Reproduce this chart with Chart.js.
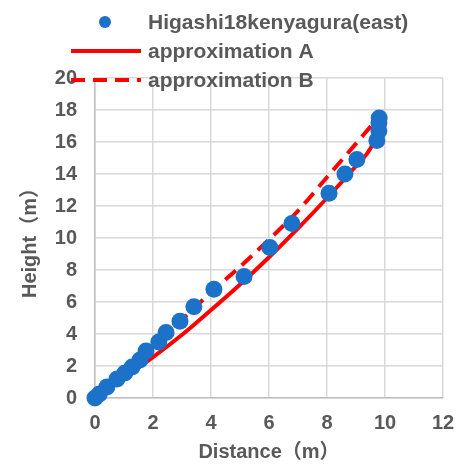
<!DOCTYPE html>
<html>
<head>
<meta charset="utf-8">
<script src="https://cdn.jsdelivr.net/npm/chart.js@4/dist/chart.umd.min.js"></script>
<style>
  html, body { margin: 0; padding: 0; background: #fff; }
  #wrap { width: 462px; height: 465px; }
</style>
</head>
<body>
<div id="wrap"><canvas id="c" width="462" height="465"></canvas></div>
<script>
// measured points (m)
const distance = [0, 0.15, 0.41, 0.76, 1.03, 1.28, 1.55, 1.76, 2.2, 2.45, 2.93, 3.41, 4.1, 5.14, 6.03, 6.79, 8.07, 8.62, 9.03, 9.72, 9.79, 9.79, 9.8];
const height   = [0, 0.25, 0.69, 1.19, 1.56, 1.94, 2.38, 2.94, 3.5, 4.1, 4.8, 5.7, 6.8, 7.6, 9.4, 10.9, 12.8, 14.0, 14.9, 16.1, 16.7, 17.2, 17.5];

// approximation curves
const approxAX = [0, 1, 2, 3, 4, 5, 6, 7, 8, 9, 9.5, 9.8];
const approxAY = [0, 1.25, 2.55, 3.95, 5.5, 7.1, 8.8, 10.6, 12.5, 14.5, 15.6, 16.9];
const approxBX = [0, 1, 2, 3, 4, 5, 6, 7, 8, 9, 9.8];
const approxBY = [0, 1.5, 3.2, 4.9, 6.6, 8.2, 9.9, 11.7, 13.8, 15.9, 17.6];

const seriesNames = ['Higashi18kenyagura(east)', 'approximation A', 'approximation B'];
const xTitle = 'Distance（m）';
const yTitle = 'Height（m）';

const BLUE = '#1c71c8';
const RED = '#ff0000';
const TXT = '#595959';
const FONT = "'Liberation Sans', Arial, 'Noto Sans CJK JP', sans-serif";

const toPts = (xs, ys) => xs.map((x, i) => ({ x: x, y: ys[i] }));

// legend drawn by hand so it can sit over the plot top like the original
const legendPlugin = {
    id: 'legendOverlay',
    afterDraw(chart) {
        const ctx = chart.ctx;
        ctx.save();
        ctx.font = `bold 21px ${FONT}`;
        ctx.textBaseline = 'middle';
        ctx.textAlign = 'left';
        const rows = [22, 51, 80];

        ctx.fillStyle = BLUE;
        ctx.beginPath();
        ctx.arc(105, rows[0], 6, 0, Math.PI * 2);
        ctx.fill();

        ctx.strokeStyle = RED;
        ctx.lineWidth = 4;
        ctx.beginPath();
        ctx.moveTo(71, rows[1]);
        ctx.lineTo(141, rows[1]);
        ctx.stroke();

        ctx.setLineDash([14, 8]);
        ctx.beginPath();
        ctx.moveTo(71, rows[2]);
        ctx.lineTo(141, rows[2]);
        ctx.stroke();
        ctx.setLineDash([]);

        ctx.fillStyle = TXT;
        seriesNames.forEach((n, i) => ctx.fillText(n, 148, rows[i] + 1));
        ctx.restore();
    }
};

const tickFont = { family: FONT, size: 20, weight: 'bold' };

new Chart(document.getElementById('c'), {
    type: 'scatter',
    data: {
        datasets: [
            {
                label: seriesNames[0],
                data: toPts(distance, height),
                backgroundColor: BLUE,
                borderColor: BLUE,
                pointRadius: 8.5,
                pointBorderWidth: 0,
                showLine: false,
                clip: false
            },
            {
                label: seriesNames[1],
                data: toPts(approxAX, approxAY),
                borderColor: RED,
                borderWidth: 4,
                pointRadius: 0,
                showLine: true,
                cubicInterpolationMode: 'monotone'
            },
            {
                label: seriesNames[2],
                data: toPts(approxBX, approxBY),
                borderColor: RED,
                borderWidth: 4,
                borderDash: [14, 8],
                pointRadius: 0,
                showLine: true,
                cubicInterpolationMode: 'monotone'
            }
        ]
    },
    options: {
        responsive: false,
        animation: false,
        layout: { padding: { left: 0, top: 78, right: 19, bottom: 0 } },
        plugins: { legend: { display: false }, tooltip: { enabled: false } },
        scales: {
            x: {
                min: 0, max: 12,
                ticks: { stepSize: 2, color: TXT, padding: 13, font: tickFont },
                grid: { color: '#d9d9d9', lineWidth: 1.5, drawTicks: false },
                border: { color: '#bfbfbf', width: 1.5 },
                title: { display: true, text: xTitle, color: TXT, padding: { top: 0, bottom: 1 }, font: tickFont },
                afterFit(scale) {
                    scale.height = 67;
                    scale.paddingLeft = 0;
                    scale.paddingRight = 0;
                }
            },
            y: {
                min: 0, max: 20,
                ticks: { stepSize: 2, color: TXT, padding: 18, font: tickFont },
                grid: { color: '#d9d9d9', lineWidth: 1.5, drawTicks: false },
                border: { color: '#bfbfbf', width: 1.5 },
                title: { display: true, text: yTitle, color: TXT, padding: { top: 18, bottom: 0 }, font: tickFont },
                afterFit(scale) {
                    scale.width = 95;
                    scale.paddingTop = 0;
                    scale.paddingBottom = 0;
                }
            }
        }
    },
    plugins: [legendPlugin]
});
</script>
</body>
</html>
